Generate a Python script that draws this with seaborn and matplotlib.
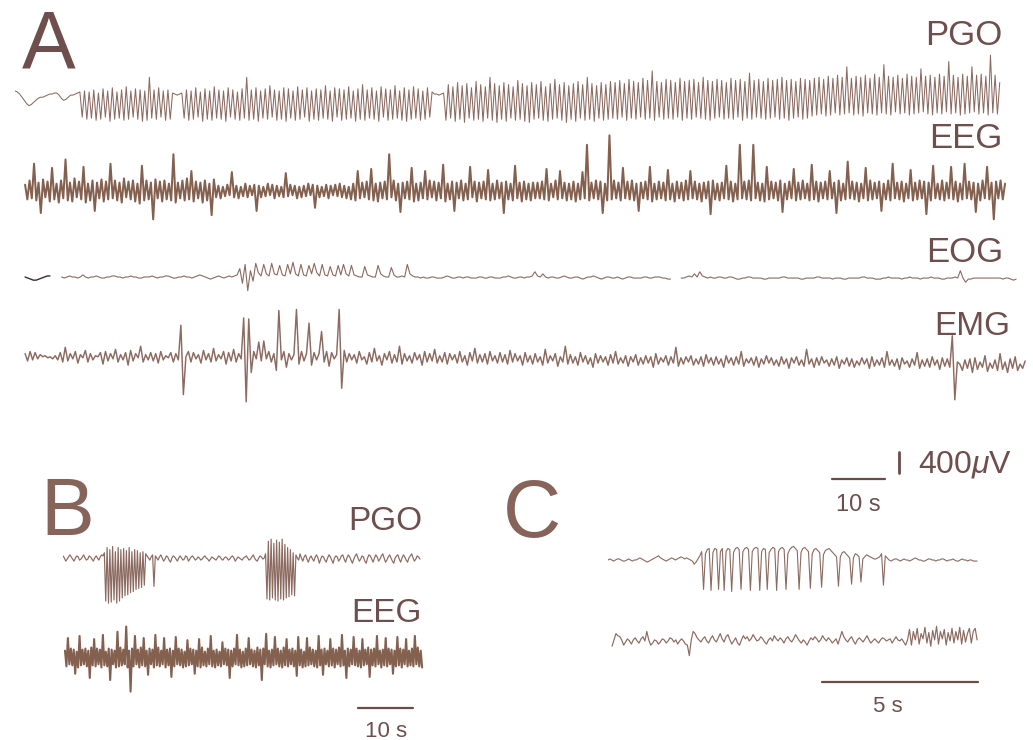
import numpy as np
import pandas as pd
import matplotlib
matplotlib.use("Agg")
import matplotlib.pyplot as plt
import seaborn as sns

# ---------------- data (µV) ----------------
# Panel A  (time axis: seconds from start of record)
PGO_A_SPAN = (0.0, 185.8)
PGO_A = [40, 20, -20, -80, -140, -200, -240, -220, -180, -140, -100, -80, -80, -60, -40, -20, -20, 0, 0, -40,
         -100, -140, -120, -80, -40, -40, -20, 0, 20,
         -460, 40, -500, 20, -480, 60, -520, 0, -500, 80, -460, 40, -540, 100, -500, 20, -480, 60, -520, 120,
         -500, 40, -460, 80, -500, 60, -540, 40, -520, 300, -480, 60, -500, 100, -460, 40, -520, 60, -500,
         0, -20, -40, -20, 0,
         -480, 60, -520, 40, -500, 100, -460, 20, -540, 80, -500, 40, -520, 120, -480, 60, -500, 40, -540, 100,
         -460, 60, -500, 20, -520, 80, -480, 300, -520, 60, -500, 100, -540, 40, -480, 80, -500, 140, -460, 60,
         -520, 40, -500, 100, -540, 80, -480, 40, -520, 120, -500, 60, -460, 100, -540, 40, -500, 80, -520, 60,
         -480, 140, -500, 40, -540, 100, -460, 80, -520, 60, -500, 120, -480, 40, -540, 80, -500, 160, -520, 60,
         -480, 100, -500, 40, -540, 120, -460, 80, -520, 60, -500, 140, -480, 40, -520, 100, -540, 60, -500, 120,
         -480, 80, -520, 40, -500, 100, -460, 20,
         -20, -20, -40, -20, 0,
         -520, 160, -480, 120, -540, 200, -500, 140, -560, 180, -480, 100, -520, 220, -500, 160, -540, 120, -480, 300,
         -520, 180, -560, 140, -500, 200, -540, 160, -480, 120, -520, 240, -500, 180, -540, 140, -560, 200, -500, 160,
         -480, 220, -520, 120, -540, 180, -500, 260, -480, 160, -520, 200, -560, 140, -500, 180, -540, 220, -480, 160,
         -520, 300, -500, 180, -540, 140, -480, 200, -520, 160, -500, 220,
         -480, 200, -500, 240, -460, 180, -520, 260, -480, 220, -500, 200, -460, 280, -500, 240, -480, 420, -520, 220,
         -460, 200, -500, 260, -480, 240, -500, 200, -460, 280, -520, 220, -480, 240, -500, 260, -460, 200, -480, 300,
         -500, 240, -520, 220, -480, 260, -460, 240, -500, 200, -480, 280, -500, 240, -460, 260, -520, 220, -480, 380,
         -500, 240, -460, 260, -480, 220, -500, 280, -480, 240, -460, 260, -500, 300, -480, 240, -520, 260, -480, 220,
         -460, 280, -500, 260, -480, 240,
         -440, 280, -420, 300, -400, 260, -440, 320, -420, 280, -380, 340, -420, 300, -400, 500, -380, 280, -420, 320,
         -400, 300, -440, 340, -380, 280, -400, 360, -420, 300, -380, 540, -400, 320, -420, 300, -360, 340, -400, 280,
         -380, 360, -420, 320, -400, 300, -380, 460, -360, 320, -400, 340, -420, 300, -380, 360, -400, 320, -360, 600,
         -400, 340, -380, 300, -420, 360, -400, 320, -380, 500, -360, 340, -400, 360, -380, 320, -420, 720, -380, 340,
         -400, 200]

EEG_A_SPAN = (1.9, 186.8)
EEG_A = [120, -160, 200, -140, 520, -180, 160, -420, 220, -120, 180, -200, 440, -160, 140, -220, 200, -140, 600, -180,
         160, -200, 240, -120, 180, -160, 460, -220, 140, -180, 200, -380, 160, -140, 220, -200, 180, -160, 520, -140,
         200, -180, 160, -220, 240, -120, 180, -160, 200, -200, 140, -240, 480, -180, 200, -160, 160, -540, 220, -140,
         180, -200, 200, -160, 140, -180, 700, -220, 160, -140, 200, -180, 240, -160, 380, -200, 180, -140, 160, -220,
         200, -180, 140, -460, 220,
         -120, 100, -140, 80, -100, 120, -80, 360, -120, 100, -140, 80, -100, 140, -120, 100, -80, 120, -380, 100,
         -120, 80, -100, 140, -80, 120, -140, 100, -100, 80, -120, 340, -100, 120, -80, 100, -140, 80, -120, 100,
         -100, 140, -80, 120, -320, 100, -120, 80, -100, 120, -140, 100, -80, 120, -100, 140, -120, 100, -140, 80,
         -160, 140, -180, 380, -140, 160, -120, 180, -160, 420, -180, 140, -200, 160, -140, 180, -160, 700, -120, 200,
         -180, 140, -400, 160, -140, 180, -160, 440, -200, 140, -180, 160, -140, 380, -160, 200, -120, 180, -180, 160,
         -140, 500, -200, 140, -160, 180, -380, 160, -140, 200, -180, 140, -160, 460, -120, 180, -200, 160, -140, 180,
         -160, 400, -180, 140, -160, 200, -140, 160, -420, 180, -160, 140, -180, 480, -140, 160, -200, 180, -160, 140,
         -180, 160, -140,
         160, -140, 180, -160, 420, -180, 140, -120, 200, -160, 380, -140, 160, -180, 140, -160, 180, -200, 140, -160,
         360, -140, 880, -180, 160, -140, 200, -160, 180, -420, 140, -180, 1060, -160, 200, -140, 160, -180, 440, -140,
         180, -160, 200, -180, 140, -380, 160, -140, 180, -160, 460, -200, 140, -160, 180, -140, 160, -180, 400, -160,
         140, -200, 180, -140, 160, -180, 200, -160, 380, -140, 180, -160, 140, -200, 160, -140, 180, -440, 200, -160,
         140, -180, 160, -140, 480, -160, 180, -200, 140, -160, 880, -140, 180, -160, 200, -180, 880, -140, 160, -180,
         140, -200, 460, -160, 180, -140, 160, -180, 200, -400, 140, -160, 180, -140, 420, -180, 160, -160, 200, -140,
         140, -180, 500, -160, 180, -200, 160, -140, 180, -160, 380, -140, 160, -420, 200, -180, 140, -160, 560, -140,
         180, -160, 160, -200, 140, -140, 440, -180, 200, -160, 160, -140, 180, -380, 140, -160, 200, -180, 520, -140,
         160, -160, 180, -200, 140, -140, 400, -180, 160, -160, 200, -140, 180, -440, 160, -180, 480, -140, 140, -160,
         200, -180, 160, -140, 460, -160, 180, -200, 140, -160, 520, -140, 180, -160, 160, -400, 140, -180, 200, -140,
         460, -160, 160, -540, 180, -140, 200, -160, 140]

EOG_A_LEAD_SPAN = (1.9, 6.6)
EOG_A_LEAD = [0, -20, -40, -60, -60, -40, -20, 0, 20, 20]

EOG_A_SPAN = (8.8, 188.9)
EOG_A = [0, -20, 0, 20, 0, 0, -20, 0, 40, 0, -20, 0, 0, 20, 0, -20, -20, 0, 0, 20,
         20, 0, 0, -20, 0, 0, 20, 0, 0, -20, -20, 0, 0, 0, 20, 0, -20, 0, 0, 20,
         20, 0, -20, -20, 0, 0, 20, 0, 0, -20, 0, 20, 40, 20, 0, -20, -40, -20, 0, 20,
         0, -20, 0, 20, 0, 20, 40,
         160, -120, 240, -260, 120, -80,
         260, 80, 20, 240, 60, 20, 260, 60, 40, 220, 40, 20, 240, 60, 280, 60, 20, 240, 40, 20,
         220, 60, 260, 80, 20, 240, 40, 20, 200, 40, 20, 220, 40, 240, 60, 20, 220, 40, 20, 0,
         0, 200, 40, 20, 0, 0, 220, 60, 20, 0, 0, 180, 40, 0, 0, 20, 0, 240, 60, 20, 0,
         0, -20, 0, -20, -20, 0, 0, -20, -20, -20, 0, 20, 0, -20, -20, 0, 0, -20, 0, 0,
         -20, -20, -20, 0, 0, -20, -20, 0, 0, -20, -20, -20, 0, 0, 20, 0, -20, -20, 0, 0,
         -20, 0, 0, 20, 100, 20, 0, 60, 0, -20, 0, 0, -20, -20, 0, 20, 0, -20, -20, 0,
         0, -20, -40, -20, 0, 0, 20, 0, -20, -40, -20, 0, 0, -20, -20, 0, -20, -40, -20, 0,
         0, -20, -20, -20, -20, 0, 0, -20, -20, 0, 0, 0, -20, -20, -40, -40,
         None, None, None,
         -20, -20, 0, 20, 0, 60, 0, 100, 20,
         0, -20, 0, -20, -20, 0, 0, -20, -20, 0, 0, -20, -40, -40, -20, -20, 0, 0, -20, -20,
         -20, -20, -40, -40, -20, -20, -20, -20, -20, 0, 0, -20, -20, -20, -20, -20, -40, -40, -20, -20,
         -20, -20, 0, 0, -20, -20, -20, -20, -40, -20, -20, -20, -40, -40, -20, -20, -20, -20, -20, 0,
         0, -20, -20, -20, -40, -40, -40, -20, -20, 0, -20, -20, -20, -20, -40, -20, -20, 0, -20,
         -20, -20, -40, -20, -20, -20, 0, -20, -20, -20, -40, -40, -20, -20, -20, 0, -20,
         120, -20, -100, -40, -40, -20, -20, -20, -20, -20, -20, -20, -20, -20, -20, -20, -40, -20, -20, -40,
         -60, -40]

EMG_A_SPAN = (1.9, 190.6)
EMG_A = [160, 20, 200, 40, 180, 60, 140, 100, 120, 80, 100, 60, 120, 40, 180, 0, 280, 20, 160, 60,
         200, -20, 140, 80, 220, 0, 160, 40, 120, 100, 180, -40, 200, 20, 160, 60, 240, 0, 140, 40,
         180, -60, 220, 20, 160, 80, 300, 0, 140, 40, 180, 20, 160, -20, 200, 40, 120, 80, 180, 0,
         160, 40,
         700, -620, 100,
         200, 0, 180, 60, 140, -20, 220, 40, 160, 0, 260, 20, 140, 60, 200, -40, 180, 20, 240, 0,
         160, 60,
         840, -760, 820, -200,
         200, 60, 380, 20, 400, 60, 200, 0, 160, -160, 980, 40, 200, -100, 160, 40, 140, 1000, -40, 200,
         20, 160, 740, -60, 180, 40, 160, 580, 0, 200, -80, 180, 60, 140, 1000, -500, 220, 0, 160, 40,
         140, -20, 200, 40, 100, -40, 180, 0, 260, 20, 120, -60, 160, 40, 200, -20, 140, 0, 300, -40,
         160, 20, 120, -20, 180, 40, 140, -60, 200, 0, 160, 20, 240, -20, 120, 0, 180, -40, 160, 40,
         140, -20, 200, 0, 120, -60, 180, 20, 260, -20, 140, 0, 160, -40, 200, 20, 120, -20, 180, 0,
         140, -40, 220, 0, 160, 20, 120, -60, 180, 0,
         120, -40, 160, 0, 100, -60, 240, -20, 120, 20, 160, -80, 100, 0, 300, -40, 140, -20, 100, -60,
         180, 0, 120, -40, 80, -100, 160, -20, 120, 0, 100, -60, 140, -20, 200, -40, 80, -20, 120, -80,
         100, 0, 140, -60, 80, -40, 120, -20, 100, -100, 160, -40, 80, 0, 120, -60, 100, -20, 280, -80,
         80, -40, 100, 0, 120, -60, 60, -40, 100, -80, 140, -20, 80, -60, 100, -40, 60, -100, 120, -20,
         80, -60, 100, -40, 200, -80, 60, -20, 80, -60, 100, -100, 60, -40, 120, -20, 80, -60, 40, -80,
         100, -40, 60, -120, 80, -20, 100, -60, 40, -80, 240, -40, 60, -100, 80, -60, 100, -20, 40, -80,
         60, -60, 100, -120, 40, -40, 80, -80, 60, -100, 20, -60, 80, -40, 60, -120, 100, -80, 40, -60,
         80, -100, 200, -60, 40, -80, 60, -140, 80, -40, 20, -100, 60, -60, 180, -120, 40, -80, 60, -100,
         100, -60, 40, -140, 80, -80, 60, -100,
         500, -720, 0,
         -40, -160, 40, -120, 60, -200, 80, -140, 0, -100, 120, -180, -20, -120, 40, -160, 160, -140, 0, -200,
         60, -120, 100, -160, -40, -120, 20]

# Panel B
PGO_B_SPAN = (0.0, 64.9)
PGO_B = [40, 0, -60, -20, 20, 60, 20, -20, -60, 0, 40, 20, -40, -20, 20, 60, 0, -40, -20, 40,
         20, -20, -60, 0, 40, 0, -40, 20, 60, 40, 100,
         -820, 200, -860, 160, -840, 220, -800, 120, -860, 200, -820, 160,
         -760, 180, -720, 140, -700, 200, -660, 120, -640, 160, -600, 140, -580, 100, -560, 120, -520, 80,
         40, 0, -40, 20, 60, -540, 40,
         0, -40, 20, 60, 0, -60, -20, 40, 20, -40, -80, 0, 40, 20, -20, -60, 0, 40, 0, -40,
         -20, 40, 20, -60, -20, 20, 40, 0, -40, -20, 20, 0, -40, -20, 20, 40, 0, -20, -60, -20,
         20, 0, -20, -40, 0, 40, 20, -20, -40, 0, 20, 0, -40, -20, 20, 40, 0, -60, -20, 20,
         0, -20, -40, 0, 20, 40, 0, -40, -20, 20, 60, 0, -40, -60, 0, 40, 20, -20, 0, 80,
         -780, 320, -800, 360, -760, 280, -800, 340, -820, 300, -780, 360, -800, 260, -760, 200, -740, 160, -700, 100,
         -720, 60, 0, -40,
         80, 0, -60, 20, 60, -20, -80, 0, 40, -20, -60, 20, 60, 0, -100, -20, 40, 20, -40, -80,
         0, 60, 20, -40, -100, 0, 40, 20, -60, -20, 40, 60, -20, -80, 0, 60, 20, -40, -100, -20,
         40, 80, 0, -60, -20, 40, 20, -60, -100, 0, 60, 40, -20, -80, 0, 60, 20, -60, -20, 40,
         80, 0, -80, -40, 20, 60, 0, -60, -100, 0, 40, 60, -20, -80, 0, 60, 20, -40, -80, 0,
         40, 80, 0, -60, -20, 40, 20, -20]

EEG_B_SPAN = (0.36, 65.3)
EEG_B = [140, -160, 380, -120, 180, -140, 160, -300, 120, -180, 420, -140, 160, -120, 180, -160, 140, -380, 200, -140,
         360, -160, 180, -120, 160, -180, 440, -140, 120, -160, 180, -420, 160, -120, 140, -180, 500, -160, 200, -140,
         160, -120, 600, -180, 140, -640, 180, -160, 420, -120, 160, -180, 200, -140, 380, -160, 140, -320, 180, -120,
         160, -180, 440, -140, 200, -160, 140, -120, 380, -180, 160, -140, 180, -360, 140, -160, 400, -120, 180, -140,
         160, -180, 120, -160, 340, -140, 180, -120, 160, -300, 140, -160, 360, -180, 200, -140, 120, -160, 180, -120,
         420, -160, 140, -180, 160, -140, 120, -160, 300, -120, 180, -140, 160, -380, 140, -160, 180, -120, 440, -140,
         160, -180, 120, -160, 180, -140, 380, -120, 160, -160, 140, -180, 200, -140, 160, -420, 180, -120, 460, -160,
         140, -180, 160, -140, 400, -120, 180, -160, 140, -180, 200, -140, 360, -160, 160, -120, 180, -160, 140, -340,
         400, -140, 160, -180, 120, -160, 380, -140, 200, -120, 160, -160, 140, -180, 420, -140, 160, -320, 180, -120,
         140, -160, 360, -140, 180, -180, 160, -120, 200, -160, 440, -140, 140, -380, 180, -160, 160, -120, 400, -140,
         180, -160, 140, -180, 360, -140, 160, -120, 200, -360, 160, -140, 180, -160, 420, -120, 140, -180, 160, -140,
         380, -160, 180, -120, 160, -300, 140, -160, 400, -140, 180, -180, 160, -120, 360, -160, 140, -140, 180, -160,
         420, -120, 200, -160, 140, -180]

# Panel C
PGO_C_SPAN = (0.0, 11.83)
PGO_C = [0, 20, 0, -20, 0, 20, 20, 0, -20, -20, 0, 20, 0, -20, 0, 0, 20, 40, 20, 0,
         -20, -40, -20, 0, 20, 40, 60, 80, 40, 20, 0, -20, 0, 20, 40, 20, 0, 20, 40, 60,
         40, 20, 40, 20, 0, -20, -80, -40, 20, 80,
         160, -560, 120, 200, 220, -580, 140, 220, 200, -560, 160, 220, -580, 160, 220, 200, -600, 140, 220, 240,
         200, -560, 160, 220, 240, 200, -580, 160, 220, 240, 220, -580, 160, 220, 200, -560, 140, 200, 240, 220,
         -580, 160, 220, 240, 200, -560, 120, 200, 240, 260, 220, 180, -560, 140, 220, 240, 200, 160, -540, 120,
         200, 220, 180, 140, -520, 100, 180, 200, 220, 180, 140, 100, 60, -500, 60, 140, 160, 120, 80, 40,
         -460, 40, 120, 100, 60, -420, 20, 60, 100, 80, 60, 40, 20, 20, 40, 60, 120, -480, 80,
         40, 0, -20, 0, 20, 20, 0, -20, 0, 20, 0, 0, -20, 0, 20, 40, 20, 0, 0, -20,
         -20, 0, 20, 20, 0, 0, -20, 0, 0, 20, 20, 0, -20, 0, 0, 20, 0, -20, -20, 0,
         20, 0, 0, -20, 0, 0, -20, -20, -20]

EEG_C_SPAN = (0.13, 11.83)
EEG_C = [-80, 40, 160, 120, 100, 40, -60, 0, 60, 20, -40, 40, 80, 20, -20, 60, 100, 20, 200, 40,
         -60, -20, 40, 20, -40, 0, 60, 40, -20, 20, 80, 60, 0, 40, -40, 20, 60, 20, -40, -60,
         -260, 40, 200, 160, 80, 40, 0, 60, 100, 20, -20, 60, 120, 40, 0, 80, 160, 60, 0, 100,
         140, 40, -40, 20, 80, -20, -60, 40, 120, 60, 100, 20, 60, 140, 80, 20, 40, 100, 60, 0,
         -40, 40, 80, 20, 120, 60, 20, 80, 40, -20, 60, 100, 40, 0, 60, 140, 80, 20, -20, 40,
         0, -60, 20, 80, 40, 100, 60, 0, 40, 120, 60, 20, 80, 40, -20, 20, 60, -40, 80, 200,
         100, 40, 0, 60, 100, 20, -40, 40, 80, 40, 0, 60, 120, 40, -20, 20, 60, 20, -20, 40,
         80, 60, 20, 40, 60, -20, 40, 100, 40, 20, 60, 0, -60, 40, 240, -60, 200, 40, 260, -40,
         160, 60, 280, -20, 180, -80, 220, 40, 300, -40, 200, 60, 240, -60, 180, 20, 260, -20, 200, 40,
         280, -40, 220, 0, 160, 260, -20, 200, 260, 40]

# scale bars
SCALE_A_SEC = 10
SCALE_A_UV = 400
SCALE_B_SEC = 10
SCALE_C_SEC = 5

# ---------------- layout / style ----------------
W, H = 1033, 740
UV_PER_PX = 400 / 21.0
TRACE = "#8b6a60"
DENSE = "#84604f"
DARK = "#3d2c29"
TEXT = "#6e4f4d"
TEXT_BC = "#86645a"
BAR = "#6a4c46"

sns.set_theme(style="white")
plt.rcParams["font.family"] = ["Liberation Sans", "DejaVu Sans"]
plt.rcParams["mathtext.fontset"] = "custom"
plt.rcParams["mathtext.rm"] = "Liberation Sans"
plt.rcParams["mathtext.it"] = "Liberation Sans:italic"

fig = plt.figure(figsize=(W / 100, H / 100), dpi=100)
fig.patch.set_facecolor("white")

HALF = 100  # px above / below the zero line of each trace axes


def trace_axes(x_origin, px_per_s, t_max, y0):
    ax = fig.add_axes([x_origin / W, 1 - (y0 + HALF) / H, t_max * px_per_s / W, 2 * HALF / H])
    ax.set_axis_off()
    ax.patch.set_alpha(0)
    return ax, (0, t_max), (-HALF * UV_PER_PX, HALF * UV_PER_PX)


def draw_trace(spec, span, values, color=TRACE, lw=0.8):
    ax, xl, yl = spec
    t = np.linspace(span[0], span[1], len(values))
    v = np.array([np.nan if x is None else x for x in values], dtype=float)
    df = pd.DataFrame({"t": t, "v": v})
    df["seg"] = df["v"].isna().cumsum()
    df = df.dropna()
    sns.lineplot(data=df, x="t", y="v", units="seg", estimator=None, sort=False,
                 ax=ax, color=color, lw=lw)
    ax.set_xlim(*xl)
    ax.set_ylim(*yl)


def txt(x, y, s, size, color=TEXT, ha="right"):
    fig.text(x / W, 1 - y / H, s, fontsize=size, color=color, ha=ha, va="baseline")


# ---- Panel A ----
A_X0, A_PXS, A_TMAX = 15, 5.3, 192
draw_trace(trace_axes(A_X0, A_PXS, A_TMAX, 93), PGO_A_SPAN, PGO_A, lw=0.75)
draw_trace(trace_axes(A_X0, A_PXS, A_TMAX, 191), EEG_A_SPAN, EEG_A, color=DENSE, lw=1.45)
ax_eog = trace_axes(A_X0, A_PXS, A_TMAX, 277)
draw_trace(ax_eog, EOG_A_LEAD_SPAN, EOG_A_LEAD, color=DARK, lw=1.0)
draw_trace(ax_eog, EOG_A_SPAN, EOG_A, lw=0.8)
draw_trace(trace_axes(A_X0, A_PXS, A_TMAX, 362), EMG_A_SPAN, EMG_A, lw=1.05)

# A scale bars
axs, xl, yl = trace_axes(A_X0, A_PXS, A_TMAX, 479)
t_bar = 154.2
sns.lineplot(x=[t_bar, t_bar + SCALE_A_SEC], y=[0, 0], ax=axs, color=BAR, lw=1.6)
tv = 166.8
sns.lineplot(x=[tv, tv], y=[6 * UV_PER_PX, 6 * UV_PER_PX + SCALE_A_UV], ax=axs, color=BAR,
             lw=2.0, estimator=None, sort=False)
axs.set_xlim(*xl); axs.set_ylim(*yl)
txt(858, 511, "10 s", 17, ha="center")
txt(918, 473, r"400$\mathit{\mu}$V", 23, ha="left")

txt(22, 68, "A", 58, ha="left")
txt(1002, 45, "PGO", 25)
txt(1002, 148, "EEG", 25)
txt(1003, 262, "EOG", 25)
txt(1010, 335, "EMG", 24)

# ---- Panel B ----
B_X0, B_PXS, B_TMAX = 63, 5.5, 66
draw_trace(trace_axes(B_X0, B_PXS, B_TMAX, 558), PGO_B_SPAN, PGO_B, lw=0.85)
draw_trace(trace_axes(B_X0, B_PXS, B_TMAX, 658), EEG_B_SPAN, EEG_B, color=DENSE, lw=1.5)
axb, xl, yl = trace_axes(B_X0, B_PXS, B_TMAX, 708)
sns.lineplot(x=[53.6, 53.6 + SCALE_B_SEC], y=[0, 0], ax=axb, color=BAR, lw=1.6)
axb.set_xlim(*xl); axb.set_ylim(*yl)
txt(386, 737, "10 s", 16, ha="center")
txt(40, 535, "B", 58, color=TEXT_BC, ha="left")
txt(422, 530, "PGO", 24)
txt(422, 622, "EEG", 24)

# ---- Panel C ----
C_X0, C_PXS, C_TMAX = 608, 31.2, 12
draw_trace(trace_axes(C_X0, C_PXS, C_TMAX, 560), PGO_C_SPAN, PGO_C, lw=0.8)
draw_trace(trace_axes(C_X0, C_PXS, C_TMAX, 642), EEG_C_SPAN, EEG_C, lw=0.85)
axc, xl, yl = trace_axes(C_X0, C_PXS, C_TMAX, 682)
sns.lineplot(x=[6.86, 6.86 + SCALE_C_SEC], y=[0, 0], ax=axc, color=BAR, lw=1.6)
axc.set_xlim(*xl); axc.set_ylim(*yl)
txt(888, 712, "5 s", 16, ha="center")
txt(503, 537, "C", 58, color=TEXT_BC, ha="left")

fig.savefig("out.png", dpi=100, facecolor="white")
